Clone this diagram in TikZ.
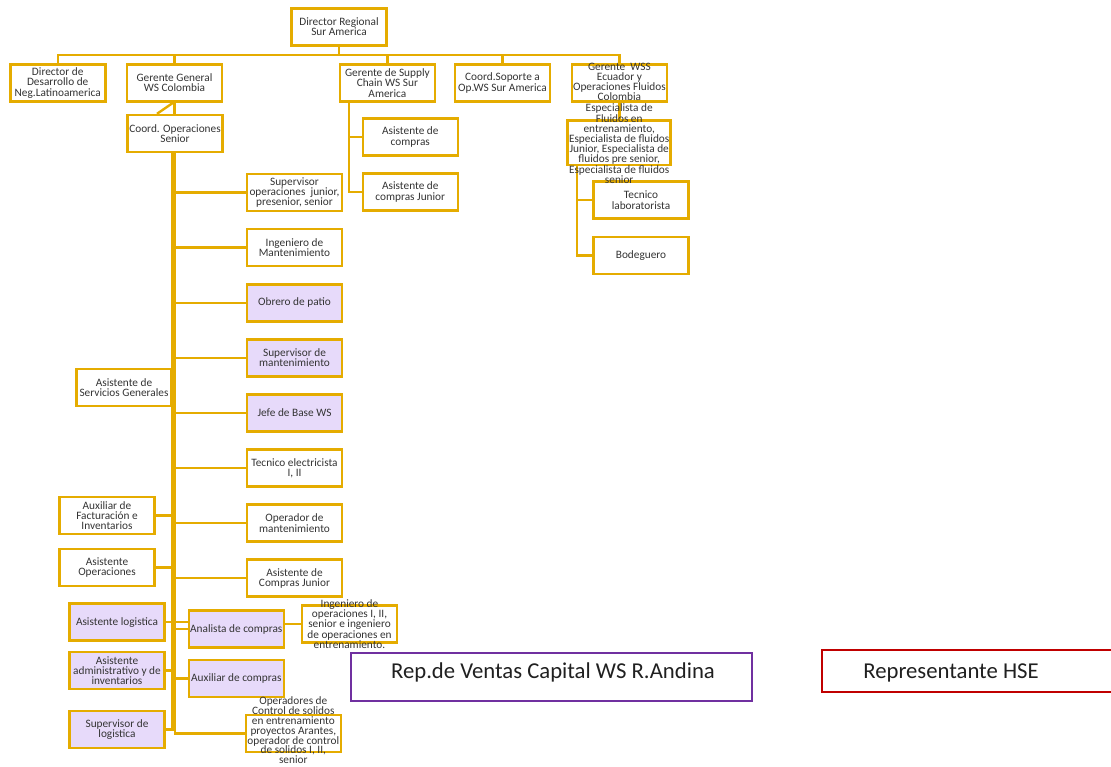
\documentclass[tikz,border=0pt]{standalone}
\usepackage{fontspec}
\setmainfont{Carlito}
\definecolor{oro}{RGB}{229,172,0}
\definecolor{lila}{RGB}{231,218,250}
\definecolor{morado}{RGB}{112,48,160}
\definecolor{rojo}{RGB}{192,0,0}
\definecolor{gristexto}{RGB}{52,52,52}
\definecolor{negrotexto}{RGB}{32,32,32}
\newcommand{\letrachica}{\fontsize{11.3}{10.2}\selectfont}
\newcommand{\letragrande}{\fontsize{22.7}{26}\selectfont}
\tikzset{
  caja/.style={draw=oro, line width=2.6pt, fill=white, align=center, inner sep=1pt,
    minimum width=95pt, minimum height=37pt, text=gristexto, font=\letrachica},
  cajalila/.style={caja, fill=lila},
  texto/.style={align=center, inner sep=0pt, text=gristexto, font=\letrachica},
  cajagrande/.style={line width=2.3pt, fill=white},
  textogrande/.style={inner sep=0pt, text=negrotexto, font=\letragrande},
  linea/.style={draw=oro, line width=2.4pt}
}

\begin{document}
\begin{tikzpicture}[x=1pt,y=-1pt]
  \useasboundingbox (0,0) rectangle (1111,766);
  \clip (0,0) rectangle (1111,766);

  %Cajas de arriba
  \node[caja] (dirreg) at (339,27) {Director Regional\\Sur America};
  \node[caja] (dirdes) at (57.7,83) {Director de\\Desarrollo de\\Neg.Latinoamerica};
  \node[caja] (gergen) at (174.5,83) {Gerente General\\WS Colombia};
  \node[caja] (gersc) at (387.4,83) {Gerente de Supply\\Chain WS Sur\\America};
  \node[caja] (coordsop) at (502.5,83) {Coord.Soporte a\\Op.WS Sur America};
  \node[caja] (gerwss) at (619.4,83) {};

  %Coordinador y cajas de la derecha
  \node[caja] (coordop) at (175,133.6) {Coord. Operaciones\\Senior};
  \node[caja] (supop) at (294.5,192.5) {Supervisor\\operaciones~ junior,\\presenior, senior};
  \node[caja] (ingmant) at (294.5,247.6) {Ingeniero de\\Mantenimiento};
  \node[cajalila] (obrero) at (294.5,302.7) {Obrero de patio};
  \node[cajalila] (supmant) at (294.5,357.8) {Supervisor de\\mantenimiento};
  \node[cajalila] (jefe) at (294.5,412.9) {Jefe de Base WS};
  \node[caja] (tecelec) at (294.5,468) {Tecnico electricista\\I, II};
  \node[caja] (opmant) at (294.5,523.1) {Operador de\\mantenimiento};
  \node[caja] (ascompjr) at (294.5,578.2) {Asistente de\\Compras Junior};
  \node[cajalila] (analista) at (236.3,629) {Analista de compras};
  \node[cajalila] (auxcomp) at (236.3,678.3) {Auxiliar de compras};
  \node[caja] (ingop) at (349.5,624) {};
  \node[caja] (operad) at (293.3,733.5) {};

  %cajas de la izquierda
  \node[caja] (asserv) at (124,387.5) {Asistente de\\Servicios Generales};
  \node[caja] (auxfac) at (107,515.5) {Auxiliar de\\Facturación e\\Inventarios};
  \node[caja] (asisop) at (107,567.5) {Asistente\\Operaciones};
  \node[cajalila] (asislog) at (117,622.2) {Asistente logistica};
  \node[cajalila] (asisadm) at (117,670.5) {Asistente\\administrativo y de\\inventarios};
  \node[cajalila] (suplog) at (117,729.5) {Supervisor de\\logistica};

  %Supply Chain y WSS
  \node[caja] (ascomp) at (410.3,136.9) {Asistente de\\compras};
  \node[caja] (ascompjr1) at (410.3,192) {Asistente de\\compras Junior};
  \node[caja, minimum width=103pt, minimum height=44.5pt] (espec) at (619.2,142.7) {};
  \node[caja] (teclab) at (641,200.2) {Tecnico\\laboratorista};
  \node[caja] (bodeg) at (641,255.5) {Bodeguero};

  %cajas grandes
  \node[cajagrande, draw=morado, minimum width=401pt, minimum height=47.5pt] (rep) at (551.5,677) {};
  \node[cajagrande, draw=rojo, minimum width=308pt, minimum height=42pt] (hse) at (976,671) {};

  %lineas de arriba
  \coordinate (barra) at (339,54.7);
  \draw[linea] (dirreg.south) -- (barra) -| (dirdes.north);
  \draw[linea] (dirreg.south) -- (barra) -| (gergen.north);
  \draw[linea] (dirreg.south) -- (barra) -| (gersc.north);
  \draw[linea] (dirreg.south) -- (barra) -| (coordsop.north);
  \draw[linea] (dirreg.south) -- (barra) -| (gerwss.north);
  \draw[linea] (gergen.south) -- (gergen.south |- coordop.north);
  \draw[linea] ([xshift=-1.5]gergen.south) -- ([xshift=-18]coordop.north);

  %linea gruesa, lado derecho
  \draw[linea] (coordop.south) |- (supop.west);
  \draw[linea] (coordop.south) |- (ingmant.west);
  \draw[linea] (coordop.south) |- (obrero.west);
  \draw[linea] (coordop.south) |- (supmant.west);
  \draw[linea] (coordop.south) |- (jefe.west);
  \draw[linea] (coordop.south) |- (tecelec.west);
  \draw[linea] (coordop.south) |- (opmant.west);
  \draw[linea] (coordop.south) |- (ascompjr.west);
  \draw[linea] (coordop.south) |- (analista.west);
  \draw[linea] (coordop.south) |- (auxcomp.west);
  \draw[linea] (coordop.south) |- (operad.west);
  \draw[linea] (analista.east |- ingop.west) -- (ingop.west);
  %linea gruesa, lado izquierdo
  \draw[linea] ([xshift=-2.4]coordop.south) |- (auxfac.east);
  \draw[linea] ([xshift=-2.4]coordop.south) |- (asisop.east);
  \draw[linea] ([xshift=-2.4]coordop.south) |- (asisadm.east);
  \draw[linea] ([xshift=-2.4]coordop.south) |- (suplog.east);
  \draw[linea] (asislog.east) -- (analista.west |- asislog.east);

  %Supply Chain y WSS
  \draw[linea] ([xshift=-38.7]gersc.south) |- (ascomp.west);
  \draw[linea] ([xshift=-38.7]gersc.south) |- (ascompjr1.west);
  \draw[linea] (gerwss.south) -- (gerwss.south |- espec.north);
  \draw[linea] ([xshift=-42.5]espec.south) |- (teclab.west);
  \draw[linea] ([xshift=-42.5]espec.south) |- (bodeg.west);

  %textos que se salen de la caja
  \node[texto] (gerwsst) at ([yshift=1]gerwss.center) {Gerente~ WSS\\Ecuador y\\Operaciones Fluidos\\Colombia};
  \node[texto] (espect) at ([yshift=-1]espec.center) {Especialista de\\Fluidos en\\entrenamiento,\\Especialista de fluidos\\Junior, Especialista de\\fluidos pre senior,\\Especialista de fluidos\\senior};
  \node[texto] (ingopt) at (ingop) {Ingeniero de\\operaciones I, II,\\senior e ingeniero\\de operaciones en\\entrenamiento.};
  \node[texto, font=\fontsize{11.3}{9.8}\selectfont] (operadt) at ([yshift=3]operad.center) {Operadores de\\Control de solidos\\en entrenamiento\\proyectos Arantes,\\operador de control\\de solidos I, II,\\senior};
  \node[textogrande] (rept) at (553,672) {Rep.de Ventas Capital WS R.Andina};
  \node[textogrande] (hset) at (951,673) {Representante HSE};
\end{tikzpicture}
\end{document}
